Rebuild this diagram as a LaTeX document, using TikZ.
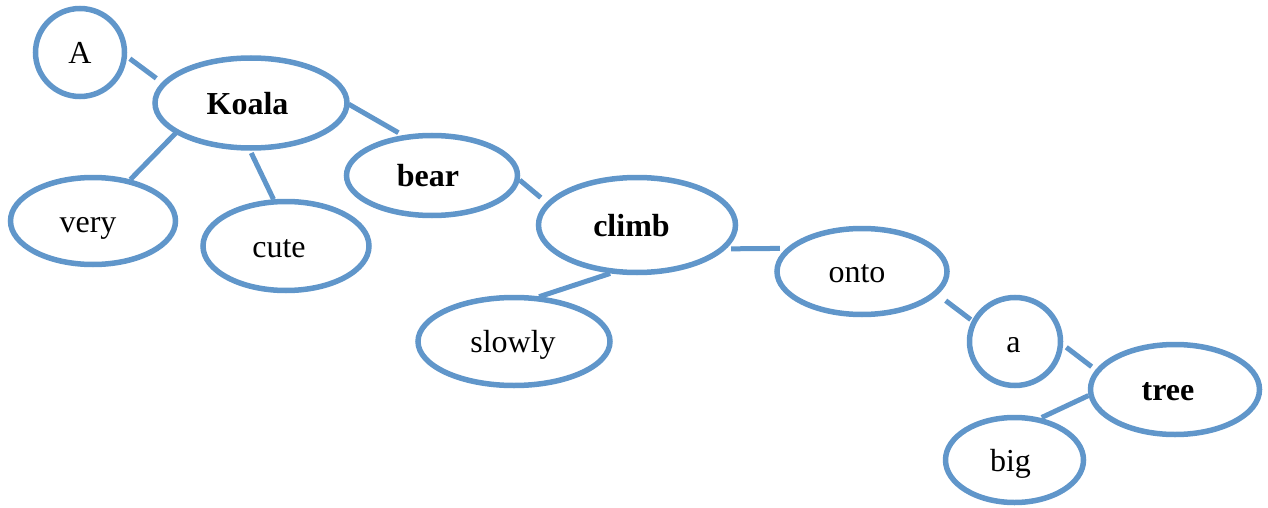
\documentclass[tikz,border=0pt]{standalone}
\usepackage{fontspec}
\setmainfont{Liberation Serif}
\usetikzlibrary{shapes.geometric}
\definecolor{edgeblue}{RGB}{96,150,202}
% moves a word sideways inside its ellipse by half the given length
\newcommand\nudge[1]{\hspace*{#1}}
\begin{document}
\begin{tikzpicture}[x=1pt,y=-1pt,
  word/.style={ellipse, draw=edgeblue, line width=5.5pt, inner sep=0pt,
    text height=26pt, text depth=4pt,
    font=\fontsize{32}{38}\selectfont, text=black},
  head/.style={word, font=\fontsize{32}{38}\selectfont\bfseries},
  link/.style={draw=edgeblue, line width=5pt}]
\useasboundingbox (0,0) rectangle (1268,508);

% words of the sentence
\node[word, minimum width=89pt, minimum height=88pt] (A) at (80,52.5) {A};
\node[head, minimum width=192pt, minimum height=90pt] (koala) at (251,103) {\nudge{-7pt}Koala};
\node[word, minimum width=165pt, minimum height=87pt] (very) at (93,221) {\nudge{-10pt}very};
\node[word, minimum width=166pt, minimum height=89pt] (cute) at (286,246) {\nudge{-14pt}cute};
\node[head, minimum width=171pt, minimum height=80pt] (bear) at (432,175.5) {\nudge{-8pt}bear};
\node[head, minimum width=197pt, minimum height=95pt] (climb) at (637,225) {\nudge{-11pt}climb};
\node[word, minimum width=192pt, minimum height=88pt] (slowly) at (514,341.5) {\nudge{-2pt}slowly};
\node[word, minimum width=170pt, minimum height=86pt] (onto) at (862,271.5) {\nudge{-10pt}onto};
\node[word, minimum width=91pt, minimum height=88pt] (a) at (1015,341.5) {\nudge{-3pt}a};
\node[head, minimum width=169pt, minimum height=90pt] (tree) at (1175,389.5) {\nudge{-14pt}tree};
\node[word, minimum width=138pt, minimum height=85pt] (big) at (1014.5,460) {\nudge{-8pt}big};

% dependency links
\draw[link, shorten <=3.5pt, shorten >=7pt] (A.-5) -- (koala.167);
\draw[link, shorten <=-1pt, shorten >=5pt] (koala.-1) -- (bear.126);
\draw[link, shorten <=-1pt] (koala.202) -- (very.48);
\draw[link, shorten <=2.5pt] (koala.-91) -- (cute.105);
\draw[link, shorten >=7.5pt] (bear.-3) -- (climb.166);
\draw[link, shorten <=5pt, shorten >=6.5pt] (climb.-15) -- (onto.163.5);
\draw[link, shorten >=-1pt] (climb.-119) -- (slowly.60);
\draw[link, shorten <=10pt, shorten >=1.5pt] (onto.-17) -- (a.154);
\draw[link, shorten <=4pt, shorten >=5pt] (a.-4) -- (tree.166);
\draw[link, shorten >=1pt] (tree.184) -- (big.58);
\end{tikzpicture}
\end{document}
